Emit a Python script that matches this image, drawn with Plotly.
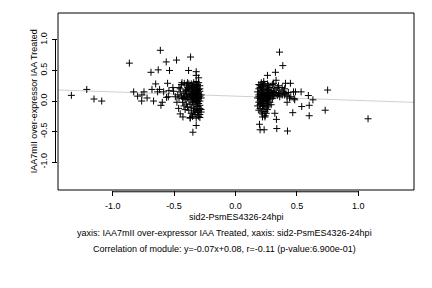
import plotly.graph_objects as go

# ---- data ----
left_sparse_x = [-1.336, -1.211, -1.152, -1.089, -0.864, -0.829, -0.797, -0.764, -0.762, -0.745,
                 -0.72, -0.688, -0.68, -0.667, -0.65, -0.629, -0.612, -0.634, -0.618, -0.607,
                 -0.596, -0.585, -0.564, -0.542, -0.553, -0.537, -0.547, -0.561, -0.48, -0.51,
                 -0.504, -0.49, -0.477, -0.463, -0.45, -0.428, -0.46, -0.436, -0.417, -0.406,
                 -0.396, -0.382, -0.366, -0.368, -0.347, -0.32, -0.32, -0.32]
left_sparse_y = [0.093, 0.19, 0.033, 0.0, 0.62, 0.15, 0.08, 0.0, 0.10, 0.15,
                 0.05, 0.47, 0.19, 0.0, 0.28, 0.51, 0.83, 0.15, 0.19, -0.07,
                 -0.02, 0.15, 0.64, 0.17, 0.29, 0.50, 0.07, 0.06, 0.67, 0.22,
                 0.16, 0.07, -0.02, -0.12, -0.21, -0.26, 0.22, 0.30, 0.29, 0.18,
                 0.10, 0.50, 0.72, -0.27, -0.51, -0.40, 0.48, 0.42]

left_dense_x = [-0.44, -0.43, -0.42, -0.42, -0.41, -0.41, -0.40, -0.40, -0.40, -0.39,
                -0.39, -0.39, -0.38, -0.38, -0.38, -0.38, -0.37, -0.37, -0.37, -0.37,
                -0.36, -0.36, -0.36, -0.36, -0.36, -0.35, -0.35, -0.35, -0.35, -0.35,
                -0.34, -0.34, -0.34, -0.34, -0.34, -0.34, -0.33, -0.33, -0.33, -0.33,
                -0.33, -0.33, -0.32, -0.32, -0.32, -0.32, -0.32, -0.32, -0.32, -0.31,
                -0.31, -0.31, -0.31, -0.31, -0.31, -0.31, -0.30, -0.30, -0.30, -0.30,
                -0.30, -0.30, -0.30, -0.30, -0.29, -0.29, -0.29, -0.29, -0.29, -0.29,
                -0.29, -0.29, -0.28, -0.28, -0.28, -0.28, -0.47, -0.46, -0.45, -0.45,
                -0.44, -0.43, -0.42, -0.41, -0.40, -0.39, -0.38, -0.37, -0.36, -0.35,
                -0.34, -0.33, -0.32, -0.31, -0.30, -0.29, -0.31, -0.32, -0.33, -0.34,
                -0.35, -0.30]
left_dense_y = [0.08, 0.04, 0.12, 0.06, 0.03, 0.15, 0.08, -0.05, 0.26, 0.05,
                0.30, -0.10, 0.12, 0.02, 0.20, -0.15, 0.07, 0.25, -0.05, 0.16,
                0.10, 0.03, -0.20, 0.28, -0.10, 0.06, 0.18, -0.02, 0.13, -0.25,
                0.09, 0.22, 0.00, -0.12, 0.30, -0.18, 0.05, 0.15, -0.06, 0.26,
                -0.22, 0.11, 0.08, 0.20, -0.03, 0.32, -0.14, -0.28, 0.14, 0.02,
                0.17, -0.09, 0.27, -0.19, 0.06, 0.23, 0.11, -0.04, 0.30, -0.16,
                0.19, -0.25, 0.04, 0.13, 0.08, -0.12, 0.25, -0.22, 0.16, 0.00,
                -0.07, -0.27, 0.10, -0.18, 0.05, -0.14, 0.10, 0.05, 0.15, 0.20,
                0.27, -0.02, -0.08, -0.14, 0.18, 0.22, 0.28, -0.28, 0.20, 0.24,
                0.14, -0.16, 0.01, -0.01, 0.07, 0.20, 0.12, 0.25, 0.18, 0.04,
                0.09, 0.38]

right_dense_x = [0.18, 0.18, 0.18, 0.19, 0.19, 0.19, 0.19, 0.19, 0.20, 0.20,
                 0.20, 0.20, 0.20, 0.20, 0.21, 0.21, 0.21, 0.21, 0.21, 0.21,
                 0.22, 0.22, 0.22, 0.22, 0.22, 0.22, 0.23, 0.23, 0.23, 0.23,
                 0.23, 0.23, 0.23, 0.24, 0.24, 0.24, 0.24, 0.24, 0.24, 0.25,
                 0.25, 0.25, 0.25, 0.25, 0.25, 0.26, 0.26, 0.26, 0.26, 0.26,
                 0.27, 0.27, 0.27, 0.27, 0.27, 0.28, 0.28, 0.28, 0.28, 0.29,
                 0.29, 0.29, 0.30, 0.30, 0.30, 0.31, 0.31, 0.32, 0.32, 0.33,
                 0.33, 0.34, 0.34, 0.35, 0.36, 0.36, 0.37, 0.38, 0.38, 0.39,
                 0.40, 0.41, 0.42, 0.43, 0.42, 0.44, 0.40, 0.35, 0.31, 0.22,
                 0.23, 0.20, 0.19, 0.24, 0.26, 0.28, 0.21, 0.22, 0.25, 0.27]
right_dense_y = [0.05, -0.08, 0.15, 0.20, -0.02, 0.10, -0.15, 0.27, 0.04, 0.13,
                 -0.06, 0.22, -0.12, 0.00, 0.08, 0.17, -0.04, 0.30, -0.18, 0.11,
                 0.02, 0.24, -0.09, 0.14, -0.21, 0.06, 0.10, -0.01, 0.19, -0.13,
                 0.32, 0.05, -0.07, 0.12, 0.01, -0.17, 0.26, 0.07, -0.04, 0.09,
                 0.21, -0.10, 0.03, 0.15, -0.20, 0.06, 0.28, -0.05, 0.12, -0.14,
                 0.02, 0.18, -0.08, 0.25, 0.09, 0.14, -0.02, 0.05, 0.22, 0.10,
                 0.17, -0.06, 0.12, 0.04, 0.27, 0.16, 0.08, 0.20, 0.11, 0.34,
                 0.14, 0.09, 0.22, 0.12, 0.18, 0.07, 0.13, 0.22, 0.10, 0.15,
                 0.10, 0.12, 0.08, 0.14, -0.02, 0.05, 0.20, 0.25, 0.29, -0.26,
                 0.28, 0.25, 0.07, -0.24, 0.18, 0.08, 0.03, 0.10, 0.00, 0.12]

right_sparse_x = [0.195, 0.20, 0.233, 0.24, 0.26, 0.32, 0.333, 0.336, 0.325, 0.358,
                  0.385, 0.423, 0.407, 0.447, 0.466, 0.45, 0.472, 0.488, 0.477, 0.482,
                  0.534, 0.539, 0.593, 0.60, 0.60, 0.63, 0.73, 0.75, 1.079]
right_sparse_y = [-0.38, -0.47, -0.47, -0.26, 0.42, -0.20, -0.30, -0.45, 0.47, 0.80,
                  0.58, -0.49, 0.29, 0.29, -0.19, 0.07, 0.15, 0.15, 0.04, 0.02,
                  0.15, -0.09, 0.09, -0.07, -0.24, 0.02, -0.15, 0.18, -0.29]

slope = -0.07
intercept = 0.08
x_range = [-1.445, 1.453]
y_range = [-1.455, 1.44]
tick_vals = [-1.0, -0.5, 0.0, 0.5, 1.0]
tick_text = ["-1.0", "-0.5", "0.0", "0.5", "1.0"]

xs = left_sparse_x + left_dense_x + right_dense_x + right_sparse_x
ys = left_sparse_y + left_dense_y + right_dense_y + right_sparse_y

FONT = "Liberation Sans, Arial, sans-serif"

fig = go.Figure()
fig.add_trace(go.Scatter(
    x=x_range, y=[slope * v + intercept for v in x_range], mode="lines",
    line=dict(color="#d0d0d0", width=1), hoverinfo="skip", showlegend=False))
fig.add_trace(go.Scatter(
    x=xs, y=ys, mode="markers",
    marker=dict(symbol="cross-thin", size=5, line=dict(color="black", width=1)),
    showlegend=False))

axis_common = dict(showgrid=False, zeroline=False, ticks="outside", ticklen=5,
                   tickcolor="black", tickwidth=1, tickvals=tick_vals, ticktext=tick_text,
                   tickfont=dict(family=FONT, size=9, color="black"), showline=False)
fig.update_xaxes(range=x_range, ticklabelstandoff=2, **axis_common)
fig.update_yaxes(range=y_range, tickangle=-90, ticklabelstandoff=1, **axis_common)

fig.add_shape(type="rect", xref="paper", yref="paper", x0=0, y0=0, x1=1, y1=1,
              line=dict(color="black", width=1))
fig.add_shape(type="line", xref="x", yref="paper", x0=tick_vals[0], x1=tick_vals[-1],
              y0=-0.01, y1=-0.01, line=dict(color="black", width=1))
fig.add_shape(type="line", xref="paper", yref="y", y0=tick_vals[0], y1=tick_vals[-1],
              x0=-0.007, x1=-0.007, line=dict(color="black", width=1))

fig.add_annotation(text="sid2-PsmES4326-24hpi", xref="paper", yref="paper",
                   x=0.5, y=-0.152, showarrow=False, yanchor="middle",
                   font=dict(family=FONT, size=9, color="black"))
fig.add_annotation(text="IAA7mII over-expressor IAA Treated", xref="paper", yref="paper",
                   x=-0.068, y=0.5, showarrow=False, textangle=-90, xanchor="center",
                   font=dict(family=FONT, size=9, color="black"))
fig.add_annotation(text="yaxis: IAA7mII over-expressor IAA Treated, xaxis: sid2-PsmES4326-24hpi",
                   xref="paper", yref="paper", x=0.467, y=-0.243, showarrow=False,
                   yanchor="middle", font=dict(family=FONT, size=9, color="black"))
fig.add_annotation(text="Correlation of module: y=-0.07x+0.08, r=-0.11 (p-value:6.900e-01)",
                   xref="paper", yref="paper", x=0.467, y=-0.333, showarrow=False,
                   yanchor="middle", font=dict(family=FONT, size=9, color="black"))

fig.update_layout(width=432, height=288, margin=dict(l=57.5, r=18, t=13, b=98),
                  paper_bgcolor="white", plot_bgcolor="white")

fig.write_html("out.html")
